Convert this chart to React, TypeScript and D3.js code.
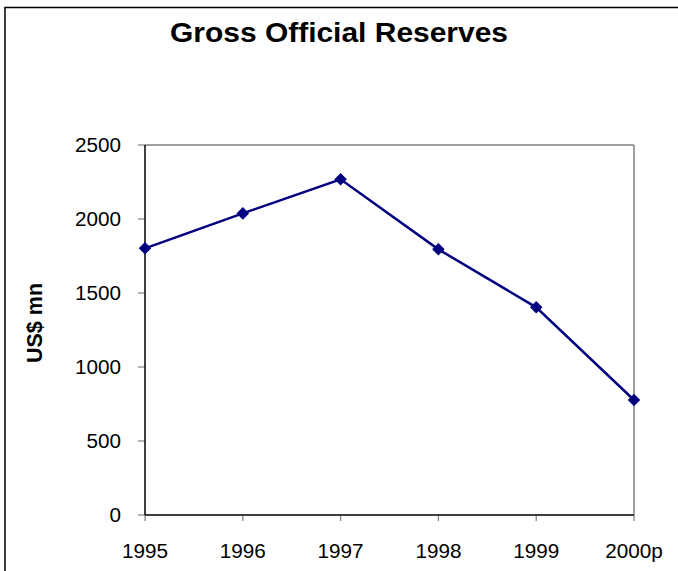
import React from "react";
import * as d3 from "d3";

const categories = ["1995", "1996", "1997", "1998", "1999", "2000p"];
const reserves = [1802, 2038, 2268, 1795, 1403, 777];
const yTicks = [0, 500, 1000, 1500, 2000, 2500];
const titleText = "Gross Official Reserves";
const yAxisTitle = "US$ mn";

const W = 678;
const H = 571;
const plot = { left: 145, right: 634, top: 145, bottom: 515 };

export default function App() {
  const x = d3
    .scalePoint<string>()
    .domain(categories)
    .range([plot.left, plot.right]);
  const y = d3.scaleLinear().domain([0, 2500]).range([plot.bottom, plot.top]);
  const line = d3
    .line<number>()
    .x((_, i) => x(categories[i]) as number)
    .y((d) => y(d));
  const font = "Liberation Sans, Arial, sans-serif";
  const diamond = d3.symbol().type(d3.symbolDiamond2).size(100)();

  return (
    <svg
      width={W}
      height={H}
      style={{ position: "absolute", left: 0, top: 0, background: "#fff" }}
      fontFamily={font}
    >
      <rect x={0} y={0} width={W} height={H} fill="#fff" />
      <rect x={5} y={7.5} width={W + 50} height={H + 50} fill="none" stroke="#000" strokeWidth={1.5} />
      <text
        x={339}
        y={42}
        textAnchor="middle"
        fontWeight="bold"
        fontSize={27.5}
        fill="#000"
        textLength={338}
        lengthAdjust="spacingAndGlyphs"
      >
        {titleText}
      </text>
      {/* plot frame: top and right gray */}
      <line x1={plot.left} x2={plot.right} y1={plot.top} y2={plot.top} stroke="#808080" strokeWidth={1.5} />
      <line x1={plot.right} x2={plot.right} y1={plot.top} y2={plot.bottom} stroke="#808080" strokeWidth={1.5} />
      {/* y ticks */}
      {yTicks.map((t) => (
        <g key={t}>
          <line x1={plot.left - 7} x2={plot.left} y1={y(t)} y2={y(t)} stroke="#808080" strokeWidth={1.2} />
          <text x={121} y={y(t)} dy="0.36em" textAnchor="end" fontSize={20.7} fill="#000">
            {t}
          </text>
        </g>
      ))}
      {/* x ticks */}
      {categories.map((c) => (
        <g key={c}>
          <line x1={x(c)} x2={x(c)} y1={plot.bottom} y2={plot.bottom + 6} stroke="#808080" strokeWidth={1.2} />
          <text x={x(c) as number} y={558} textAnchor="middle" fontSize={20.7} fill="#000">
            {c}
          </text>
        </g>
      ))}
      {/* axes */}
      <line x1={plot.left} x2={plot.left} y1={plot.top} y2={plot.bottom} stroke="#000" strokeWidth={1.5} />
      <line x1={plot.left} x2={plot.right} y1={plot.bottom} y2={plot.bottom} stroke="#000" strokeWidth={1.5} />
      <text
        transform={`translate(42, 323) rotate(-90)`}
        textAnchor="middle"
        fontWeight="bold"
        fontSize={21.5}
        fill="#000"
      >
        {yAxisTitle}
      </text>
      <path d={line(reserves) || ""} fill="none" stroke="#000080" strokeWidth={2.5} />
      {reserves.map((v, i) => (
        <path
          key={i}
          d={diamond || ""}
          transform={`translate(${x(categories[i])}, ${y(v)})`}
          fill="#000080"
        />
      ))}
    </svg>
  );
}
